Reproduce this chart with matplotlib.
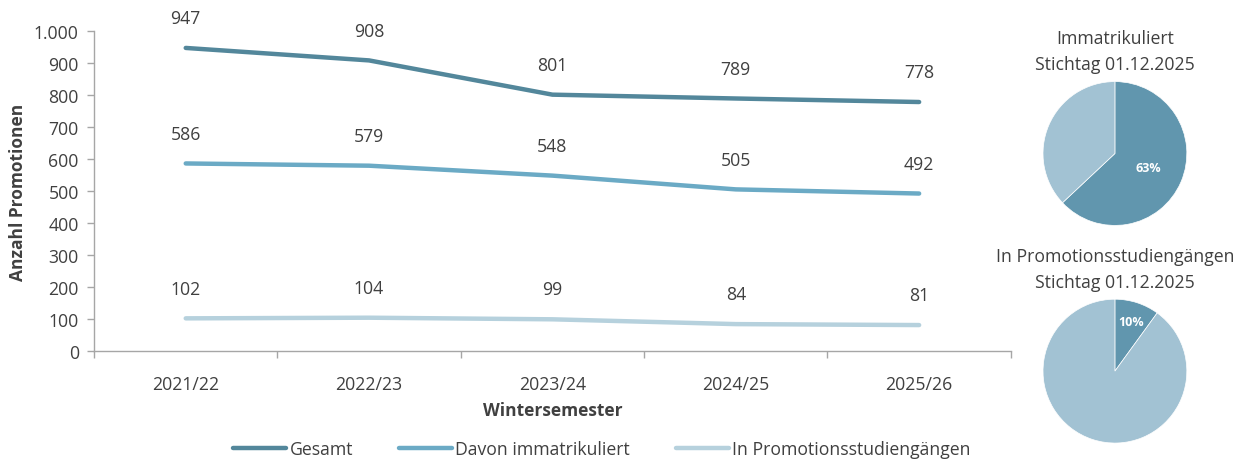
import matplotlib.pyplot as plt
from matplotlib.ticker import FuncFormatter

plt.rcParams['font.family'] = ['Open Sans', 'DejaVu Sans']

semester = ['2021/22', '2022/23', '2023/24', '2024/25', '2025/26']
gesamt = [947, 908, 801, 789, 778]
immatrikuliert = [586, 579, 548, 505, 492]
studiengaenge = [102, 104, 99, 84, 81]

pie_immat = [63, 37]
pie_studien = [10, 90]

c_gesamt = '#53879B'
c_immat = '#6BAAC5'
c_studien = '#B6D1DD'
pie_dark = '#6196AE'
pie_light = '#A2C2D3'
txt = '#404040'
grey = '#A6A6A6'
fs = 12.7

fig = plt.figure(figsize=(12.49, 4.64), dpi=100)
ax = fig.add_axes([0.0753, 0.2414, 0.734, 0.6897])

x = range(len(semester))
series = [(gesamt, c_gesamt, 'Gesamt'),
          (immatrikuliert, c_immat, 'Davon immatrikuliert'),
          (studiengaenge, c_studien, 'In Promotionsstudiengängen')]
for vals, col, name in series:
    ax.plot(x, vals, color=col, lw=3.2, solid_capstyle='round', label=name)
    for xi, v in zip(x, vals):
        ax.annotate(f'{v}', (xi, v), xytext=(0, 15), textcoords='offset points',
                    ha='center', va='bottom', fontsize=fs, color=txt)

ax.set_xlim(-0.5, len(semester) - 0.5)
ax.set_ylim(0, 1000)
ax.set_yticks(range(0, 1001, 100))
ax.yaxis.set_major_formatter(FuncFormatter(lambda v, p: f'{int(v):,}'.replace(',', '.')))
ax.set_xticks(list(x))
ax.set_xticklabels(semester)
ax.set_xticks([i - 0.5 for i in range(len(semester) + 1)], minor=True)
ax.tick_params(axis='x', which='major', length=0, pad=17, labelsize=fs, labelcolor=txt)
ax.tick_params(axis='x', which='minor', length=5, color=grey, width=1)
ax.tick_params(axis='y', length=5, color=grey, width=1, labelsize=fs, labelcolor=txt, pad=6)
for s in ['top', 'right']:
    ax.spines[s].set_visible(False)
for s in ['left', 'bottom']:
    ax.spines[s].set_color(grey)
    ax.spines[s].set_linewidth(1)
ax.set_ylabel('Anzahl Promotionen', fontsize=12.5, fontweight='bold', color=txt, labelpad=5)
ax.set_xlabel('Wintersemester', fontsize=12.5, fontweight='bold', color=txt, labelpad=6)

leg = fig.legend(loc='center', bbox_to_anchor=(0.482, 0.03), ncol=3, frameon=False,
                 fontsize=fs, handlelength=3.0, columnspacing=2.6, handletextpad=0.2)
for t in leg.get_texts():
    t.set_color(txt)

def draw_pie(rect, vals, title, pctdist):
    pax = fig.add_axes(rect)
    wedges, texts, autotexts = pax.pie(vals, colors=[pie_dark, pie_light], startangle=90,
                                       counterclock=False, autopct='%d%%', pctdistance=pctdist,
                                       wedgeprops=dict(edgecolor='white', linewidth=0.5),
                                       textprops=dict(color='white', fontsize=9, fontweight='bold'))
    autotexts[1].set_visible(False)
    pax.set_xlim(-1, 1)
    pax.set_ylim(-1, 1)
    pax.set_aspect('equal')
    pax.set_title(title, fontsize=fs, color=txt, pad=9, linespacing=1.55)

draw_pie([0.835, 0.512, 0.1153, 0.310], pie_immat, 'Immatrikuliert\nStichtag 01.12.2025', 0.5)
draw_pie([0.835, 0.043, 0.1153, 0.310], pie_studien,
         'In Promotionsstudiengängen\nStichtag 01.12.2025', 0.73)

fig.savefig('out.png', dpi=100)
